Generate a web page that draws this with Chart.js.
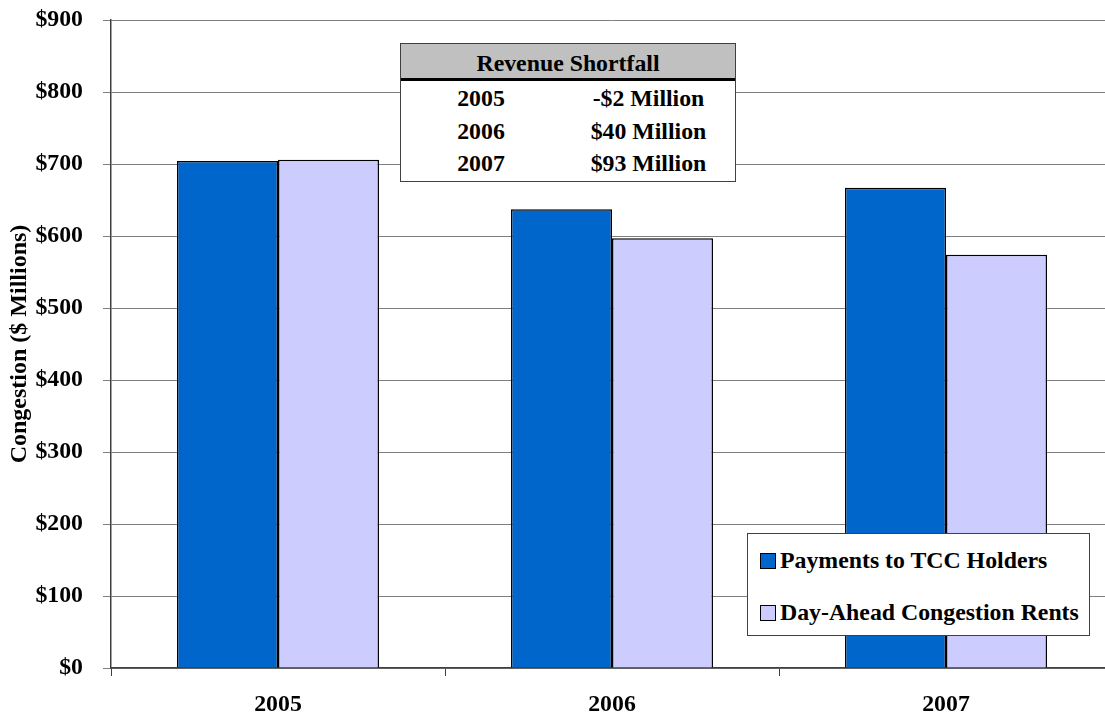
<!DOCTYPE html>
<html>
<head>
<meta charset="utf-8">
<script src="https://cdn.jsdelivr.net/npm/chart.js@4.4.1/dist/chart.umd.min.js"></script>
<style>
body { margin: 0; overflow: hidden; background: #fff; font-family: "Liberation Serif", "Times New Roman", serif; font-weight: bold; }
#wrap { position: relative; width: 1105px; height: 716px; overflow: hidden; }
#myChart { position: absolute; left: 0; top: 0; }
.box { position: absolute; background: #fff; border: 1.5px solid #404040; box-sizing: border-box; color: #000; }
#shortfall { left: 400px; top: 43px; width: 336px; height: 139px; }
#shortfall .head { height: 34px; background: #c0c0c0; border-bottom: 3px solid #000; text-align: center; font-size: 23.8px; line-height: 39px; }
#shortfall .row { position: relative; height: 32.5px; font-size: 23.8px; line-height: 35px; }
#shortfall .row span { position: absolute; text-align: center; }
#shortfall .yr { left: 30px; width: 100px; }
#shortfall .amt { left: 180px; width: 135px; }
#legend { left: 747px; top: 533px; width: 343px; height: 103px; }
#legend .item { position: absolute; left: 12px; font-size: 23.8px; line-height: 26px; white-space: nowrap; }
#legend .sw { display: inline-block; width: 14px; height: 14px; border: 1.5px solid #000; margin-right: 4px; vertical-align: -1px; }
</style>
</head>
<body>
<div id="wrap">
<canvas id="myChart" width="1113" height="716"></canvas>
<div class="box" id="shortfall"></div>
<div class="box" id="legend"></div>
</div>
<script>
const years = ['2005', '2006', '2007']
const tccPayments = [704, 637, 667]
const dayAheadRents = [706, 597, 574]
const shortfallLabels = ['-$2 Million', '$40 Million', '$93 Million']
const seriesNames = ['Payments to TCC Holders', 'Day-Ahead Congestion Rents']
const seriesColors = ['#0066cc', '#ccccff']
const serif = "'Liberation Serif', 'Times New Roman', serif"

// revenue shortfall table
const sf = document.getElementById('shortfall')
sf.innerHTML = '<div class="head">Revenue Shortfall</div>'
years.forEach((y, i) => {
	sf.innerHTML += '<div class="row"><span class="yr">' + y + '</span><span class="amt">' + shortfallLabels[i] + '</span></div>'
})

// legend
const lg = document.getElementById('legend')
seriesNames.forEach((n, i) => {
	const item = document.createElement('div')
	item.className = 'item'
	item.style.top = (13 + i * 52) + 'px'
	item.innerHTML = '<span class="sw" style="background:' + seriesColors[i] + '"></span>' + n
	lg.appendChild(item)
})

const ctx = document.getElementById('myChart').getContext('2d')
new Chart(ctx, {
	type: 'bar',
	data: {
		labels: years,
		datasets: [{
			label: seriesNames[0],
			data: tccPayments,
			backgroundColor: seriesColors[0],
			borderColor: '#000',
			borderWidth: 1.5
		}, {
			label: seriesNames[1],
			data: dayAheadRents,
			backgroundColor: seriesColors[1],
			borderColor: '#000',
			borderWidth: 1.5
		}]
	},
	options: {
		responsive: false,
		animation: false,
		layout: { padding: { top: 20, right: 0, left: 0, bottom: 0 } },
		plugins: { legend: { display: false }, tooltip: { enabled: false } },
		datasets: { bar: { categoryPercentage: 0.605, barPercentage: 1 } },
		scales: {
			x: {
				afterFit: s => { s.height = 48 },
				border: { color: '#404040', width: 1.5 },
				grid: { offset: true, drawOnChartArea: false, tickLength: 8, color: '#404040' },
				ticks: { color: '#000', padding: 15, font: { family: serif, size: 23.8, weight: 'bold' } }
			},
			y: {
				min: 0, max: 900,
				afterFit: s => { s.width = 111; s.paddingTop = 0; s.paddingBottom = 0 },
				border: { color: '#404040', width: 1.5 },
				grid: { color: '#808080', lineWidth: 1, tickLength: 8 },
				ticks: {
					stepSize: 100, padding: 20, color: '#000',
					font: { family: serif, size: 23.8, weight: 'bold' },
					callback: v => '$' + v
				},
				title: {
					display: true, text: 'Congestion ($ Millions)', color: '#000',
					padding: { top: 5, bottom: 0 },
					font: { family: serif, size: 24, weight: 'bold' }
				}
			}
		}
	}
})
</script>
</body>
</html>
